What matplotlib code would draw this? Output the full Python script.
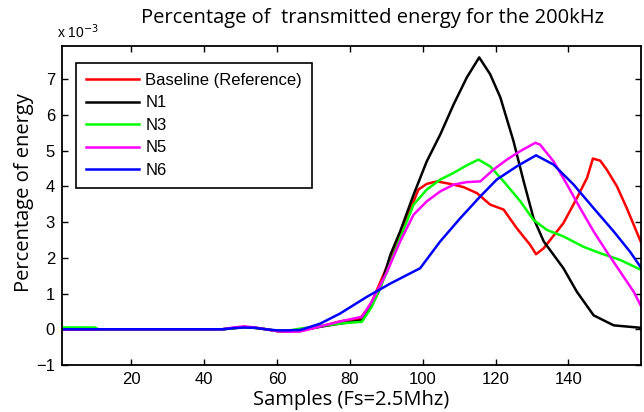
import matplotlib
matplotlib.use("Agg")
import matplotlib.pyplot as plt

# Data (values in units of 1e-3)
x_base = [1, 20, 40, 45, 48, 51, 54, 57, 60, 63, 66.4, 72, 77.3, 82.8, 85.6, 89.2, 93.8, 98.8, 101.1, 103.9,
          107.5, 111.2, 114.9, 118.5, 122.2, 125.8, 129.5, 131.1, 133.2, 138.6, 142.3, 145.1, 146.7,
          148.7, 150.5, 153.3, 156.0, 160]
y_base = [0, 0, 0, 0.0, 0.03, 0.07, 0.04, 0.0, -0.05, -0.06, -0.05, 0.08, 0.22, 0.30, 0.67, 1.52, 2.64, 3.91, 4.07, 4.14,
          4.07, 3.98, 3.81, 3.49, 3.35, 2.83, 2.36, 2.10, 2.27, 2.97, 3.67, 4.24, 4.78,
          4.72, 4.47, 4.00, 3.39, 2.41]

x_n1 = [1, 20, 40, 45, 48, 51, 54, 57, 60, 63, 66.4, 71.9, 77.3, 83.3, 86, 88.3, 91.1, 93.8, 97.5, 101.1, 104.8,
        108.5, 112.1, 115.5, 118.5, 121.3, 124.9, 127.7, 130.4, 133.2, 138.6, 142.3, 146.9, 152.4, 160]
y_n1 = [0, 0, 0, 0.0, 0.03, 0.06, 0.04, 0.0, -0.05, -0.06, -0.03, 0.07, 0.16, 0.25, 0.67, 1.14, 2.08, 2.74, 3.77, 4.70, 5.45,
        6.30, 7.05, 7.61, 7.14, 6.49, 5.27, 4.14, 3.11, 2.46, 1.71, 1.05, 0.39, 0.11, 0.04]

x_n3 = [1, 10, 11, 20, 40, 45, 48, 51, 54, 57, 60, 63, 66.4, 71.9, 77.3, 83.3, 86, 90.2, 93.8, 97.5, 101.1, 104.8,
        108.5, 112.1, 115.3, 118.5, 122.2, 126.8, 130.4, 134.1, 138.6, 144.1, 148.7, 154.2, 160]
y_n3 = [0.05, 0.05, 0, 0, 0, 0.0, 0.03, 0.06, 0.04, 0.0, -0.04, -0.04, 0.02, 0.09, 0.16, 0.21, 0.63, 1.61, 2.55, 3.49, 3.91, 4.19,
        4.38, 4.59, 4.75, 4.56, 4.14, 3.58, 3.06, 2.78, 2.60, 2.31, 2.13, 1.94, 1.66]

x_n5 = [1, 20, 40, 45, 48, 51, 54, 57, 60, 63, 66.4, 71.9, 77.3, 83.3, 86, 90.2, 93.8, 97.5, 101.1, 104.8, 108.5,
        112.1, 115.8, 119.4, 123.1, 126.8, 130.9, 132.2, 135.9, 139.6, 143.2, 146.9, 150.5, 154.2, 157.9, 160]
y_n5 = [0, 0, 0, 0.0, 0.05, 0.08, 0.05, 0.0, -0.05, -0.07, -0.06, 0.08, 0.22, 0.35, 0.77, 1.61, 2.46, 3.21, 3.58, 3.86, 4.05,
        4.12, 4.14, 4.47, 4.75, 4.99, 5.22, 5.17, 4.70, 4.05, 3.39, 2.74, 2.17, 1.61, 1.05, 0.63]

x_n6 = [1, 20, 40, 45, 48, 51, 54, 57, 60, 63, 66.4, 71.9, 77.3, 84.7, 91.1, 99.3, 104.8, 110.3, 115.8, 120.3,
        125.8, 131.1, 135.9, 141.4, 146.9, 152.4, 156.9, 160]
y_n6 = [0, 0, 0, 0.0, 0.03, 0.05, 0.04, 0.0, -0.03, -0.03, -0.02, 0.16, 0.44, 0.91, 1.28, 1.71, 2.46, 3.11, 3.72, 4.19,
        4.56, 4.87, 4.61, 4.05, 3.39, 2.74, 2.17, 1.71]

series = [
    ("Baseline (Reference)", x_base, y_base, "#ff0000"),
    ("N1", x_n1, y_n1, "#000000"),
    ("N3", x_n3, y_n3, "#00ff00"),
    ("N5", x_n5, y_n5, "#ff00ff"),
    ("N6", x_n6, y_n6, "#0000ff"),
]

x_ticks = [20, 40, 60, 80, 100, 120, 140]
y_ticks = [-1, 0, 1, 2, 3, 4, 5, 6, 7]

fig = plt.figure(figsize=(6.44, 4.12), dpi=100)
ax = fig.add_axes([62/644, 1 - 365/412, 579/644, 319/412])

for name, xs, ys, c in series:
    ax.plot(xs, ys, color=c, lw=1.8, label=name)

ax.set_xlim(1, 159.9)
ax.set_ylim(-1, 7.93)
ax.set_xticks(x_ticks)
ax.set_yticks(y_ticks)
ax.tick_params(direction="in", length=4, width=1, top=True, right=True,
               labelsize=12, pad=5)
for lab in ax.get_xticklabels() + ax.get_yticklabels():
    lab.set_family("Liberation Sans")
for s in ax.spines.values():
    s.set_linewidth(1.3)

ax.set_xlabel("Samples (Fs=2.5Mhz)", family="Open Sans", fontsize=14.5, labelpad=2)
ax.set_ylabel("Percentage of energy", family="Open Sans", fontsize=14.5)
ax.yaxis.set_label_coords(-0.048, 0.541)
fig.text(373/644, 1 - 18/412, "Percentage of  transmitted energy for the 200kHz",
         family="Open Sans", fontsize=14.5, ha="center", va="center")
fig.text(57/644, 1 - 32/412, "x 10$^{-3}$", family="Liberation Sans", fontsize=10,
         ha="left", va="center")

leg = ax.legend(loc="upper left", bbox_to_anchor=(0.024, 0.947), borderaxespad=0,
                frameon=True, fancybox=False, edgecolor="black", framealpha=1,
                prop={"family": "Liberation Sans", "size": 12},
                handlelength=3.2, labelspacing=0.45, borderpad=0.6, handletextpad=0.36)
leg.get_frame().set_linewidth(1.2)

fig.savefig("out.png", dpi=100)
